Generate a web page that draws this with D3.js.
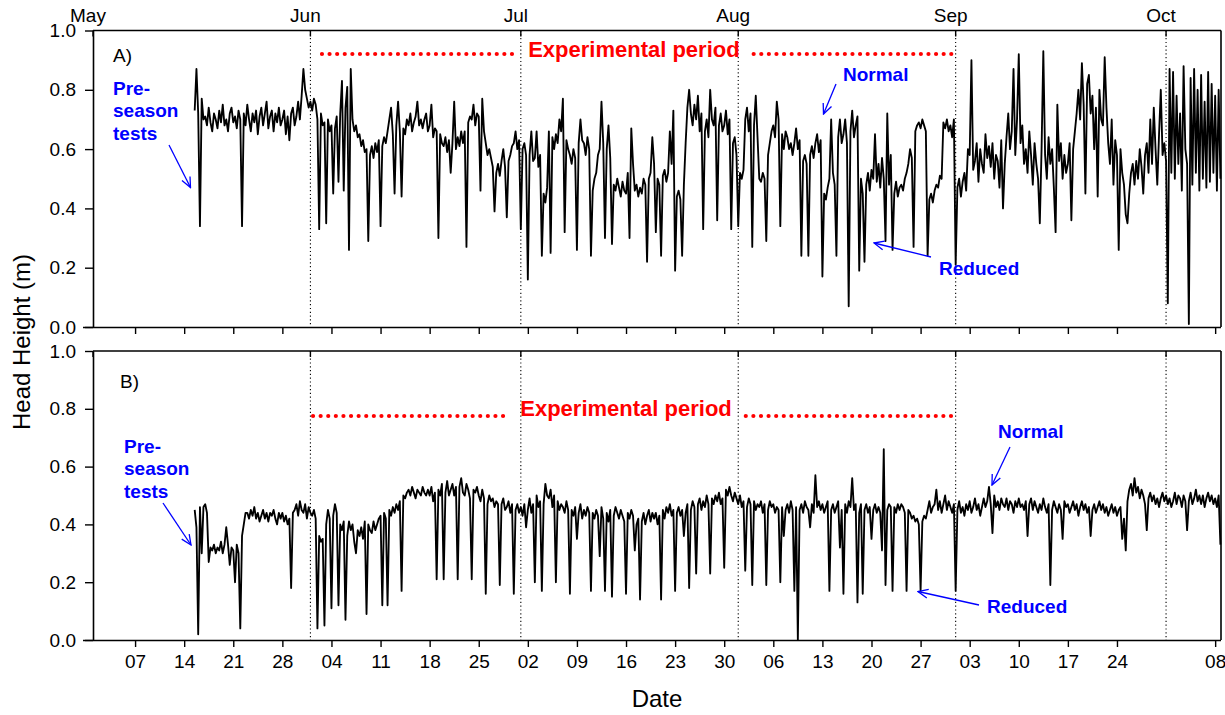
<!DOCTYPE html>
<html>
<head>
<meta charset="utf-8">
<script src="https://cdn.jsdelivr.net/npm/d3@7"></script>
<style>
  body { margin: 0; background: #fff; }
  svg text { font-family: "Liberation Sans", Arial, Helvetica, sans-serif; }
</style>
</head>
<body>
<svg id="chart" width="1225" height="715"></svg>
<script>
// Logger readings: first sample and spacing between samples
const seriesStart = "2012-05-15T12:00";
const stepHours = 6;

// A) head height, cm (4 readings per day)
const headA_cm = [
  73, 87,
  72, 34, 77, 70,  71, 68, 74, 69,  66, 72, 70, 67,  73, 69, 75, 68,  70, 66, 72, 74,  69, 71, 67, 73,
  70, 34, 72, 68,  75, 70, 66, 72,  69, 73, 65, 71,  74, 68, 72, 76,  67, 71, 73, 66,  72, 69, 74, 68,
  70, 73, 65, 71,  63, 72, 74, 68,  71, 76, 70, 78,  87, 80, 77, 74,  76, 73, 77, 75,
  // June
  70, 33, 72, 68,  69, 35, 70, 66,  68, 45, 67, 71,  49, 72, 83, 46,  74, 81, 26, 87,  70, 66, 68, 64,
  65, 61, 63, 59,  60, 29, 58, 61,  57, 62, 59, 63,  34, 61, 64, 62,  66, 70, 74, 65,  45, 68, 76, 66,
  44, 67, 65, 70,  68, 72, 66, 69,  71, 76, 68, 70,  67, 70, 72, 66,  68, 75, 64, 67,  66, 30, 65, 62,
  61, 64, 59, 63,  52, 62, 76, 60,  64, 61, 66, 62,  66, 27, 69, 71,  70, 75, 68, 72,  71, 46, 77, 66,
  62, 58, 60, 57,  54, 39, 52, 55,  51, 56, 60, 54,  37, 56, 58, 61,  62, 66, 60, 63,
  // July
  33, 60, 62, 58,  16, 58, 66, 56,  57, 66, 54, 58,  24, 45, 42, 47,  66, 25, 64, 60,  65, 62, 70, 66,
  77, 32, 63, 60,  58, 55, 60, 57,  26, 62, 70, 63,  62, 58, 64, 60,  24, 46, 50, 52,  58, 60, 76, 62,
  30, 60, 68, 57,  28, 48, 46, 50,  47, 44, 49, 46,  45, 52, 30, 67,  55, 46, 48, 44,  47, 45, 50, 48,
  22, 50, 52, 64,  55, 32, 50, 48,  24, 51, 53, 49,  52, 66, 55, 73,  19, 44, 46, 43,  24, 48, 62, 74,
  80, 72, 68, 75,  70, 78, 66, 72,  33, 66, 70, 64,  80, 70, 68, 74,  36, 68, 72, 66,  68, 73, 65, 70,
  33, 62, 64, 58,
  // August
  34, 52, 50, 53,  70, 74, 66, 72,  27, 68, 78, 64,  50, 49, 52, 50,  29, 58, 62, 66,  68, 64, 76, 70,
  34, 65, 60, 66,  64, 60, 62, 58,  62, 67, 60, 63,  24, 56, 58, 55,  24, 58, 61, 57,  62, 65, 59, 63,
  17, 45, 43, 47,  50, 70, 52, 48,  24, 64, 70, 62,  65, 70, 62,  7,  66, 73, 64, 68,  71, 19, 50, 45,
  22, 48, 52, 46,  53, 50, 65, 49,  55, 47, 57, 50,  29, 72, 48, 58,  26, 45, 49, 44,  47, 48, 46, 50,
  52, 55, 60, 57,  27, 66, 68, 69,  67, 70, 68, 66,  24, 43, 45, 42,  46, 48, 47, 51,  50, 69, 67, 70,
  66, 68, 64, 70,
  // September
  21, 47, 50, 44,  49, 52, 46, 60,  58, 90, 53, 56,  62, 49, 60, 55,  52, 65, 57, 61,  54, 62, 50, 58,
  56, 47, 63, 40,  55, 64, 72, 60,  66, 87, 58, 70,  92, 62, 68, 55,  60, 52, 66, 58,  48, 62, 55, 50,
  35, 60, 93, 58,  50, 64, 55, 60,  47, 32, 75, 56,  62, 50, 58, 52,  55, 62, 36, 60,  66, 72, 80, 70,
  89, 75, 45, 82,  85, 72, 78, 60,  74, 44, 80, 70,  68, 91, 74, 62,  55, 70, 48, 63,  58, 26, 60, 52,
  48, 38, 35, 45,  52, 55, 48, 56,  50, 60, 54, 45,  58, 62, 52, 70,  55, 74, 60, 48,  65, 80, 58, 62,
  // October
  56,  8, 87, 52,  86, 50, 78, 55,  72, 46, 88, 60,  55,  1, 84, 48,  87, 52, 80, 46,  85, 50, 76, 47,
  86, 49, 82, 52,  78, 46, 80, 50
];

// B) head height, cm (4 readings per day)
const headB_cm = [
  45, 39,
   2, 46, 30, 46,  47, 44, 27, 32,  31, 33, 30, 32,  31, 34, 30, 33,  39, 33, 26, 32,  31, 20, 33, 30,
   4, 36, 40, 44,  44, 42, 45, 43,  46, 42, 44, 41,  43, 45, 42, 44,  41, 44, 43, 45,  42, 40, 44, 42,
  44, 41, 43, 40,  42, 18, 44, 45,  47, 43, 48, 45,  44, 47, 42, 46,  44, 43, 45, 42,
  // June
   4, 36, 34, 35,   5, 40, 45, 42,  11, 43, 47, 44,  12, 40, 38, 41,   7, 36, 41, 38,  40, 34, 30, 38,
  36, 39, 35, 41,   9, 40, 38, 37,  41, 38, 40, 42,  43, 12, 44, 42,  12, 45, 43, 46,  44, 47, 45, 48,
  17, 50, 49, 51,  52, 50, 53, 51,  49, 52, 51, 50,  53, 51, 50, 52,  50, 53, 48, 51,  21, 52, 50, 54,
  21, 51, 55, 50,  52, 54, 50, 53,  21, 53, 56, 51,  50, 54, 52, 49,  21, 52, 51, 53,  50, 48, 52, 49,
  16, 47, 50, 48,  49, 46, 48, 47,  19, 47, 49, 45,  46, 48, 44, 47,  16, 45, 47, 44,
  // July
  46, 43, 47, 39,  45, 49, 44, 47,  20, 50, 46, 48,  17, 47, 54, 50,  49, 52, 46, 50,  20, 48, 45, 47,
  46, 44, 48, 45,  16, 45, 43, 46,  35, 44, 47, 42,  45, 43, 46, 44,  17, 44, 42, 45,  43, 29, 46, 42,
  17, 44, 41, 45,  15, 43, 46, 44,  42, 45, 43, 41,  16, 44, 42, 45,  43, 31, 40, 42,  14, 41, 44, 40,
  43, 45, 41, 44,  42, 44, 40, 43,  14, 45, 42, 46,  44, 47, 43, 45,  17, 44, 46, 43,  45, 36, 44, 47,
  18, 45, 48, 46,  23, 47, 49, 45,  48, 46, 50, 47,  23, 49, 47, 50,  48, 51, 47, 49,  25, 52, 50, 53,
  50, 48, 51, 49,
  // August
  47, 50, 46, 48,  24, 46, 49, 47,  19, 48, 45, 47,  46, 48, 44, 47,  19, 45, 48, 46,  47, 44, 46, 45,
  20, 46, 36, 45,  47, 44, 48, 45,  17, 46,  0, 45,  47, 44, 48, 46,  45, 39, 47, 44,  57, 46, 48, 45,
  47, 44, 46, 48,  17, 45, 47, 44,  46, 48, 32, 45,  16, 47, 44, 48,  46, 56, 45, 47,  13, 44, 47, 16,
  45, 47, 44, 46,  35, 45, 47, 44,  46, 44, 31, 66,  19, 45, 47, 46,  17, 46, 44, 47,  45, 47, 46, 44,
  17, 45, 44, 42,  43, 41, 42, 40,  17, 41, 43, 42,  45, 48, 44, 46,  47, 52, 45, 48,  44, 47, 50, 45,
  48, 46, 44, 47,
  // September
  17, 45, 48, 44,  46, 43, 47, 45,  48, 44, 46, 49,  45, 47, 43, 46,  49, 46, 48, 53,  47, 37, 50, 46,
  48, 45, 49, 47,  46, 49, 45, 48,  47, 44, 48, 46,  49, 46, 47, 45,  48, 36, 47, 49,  45, 48, 46, 44,
  47, 45, 49, 46,  44, 47, 19, 45,  48, 46, 44, 47,  45, 35, 48, 46,  47, 44, 46, 48,  45, 47, 43, 46,
  48, 45, 47, 44,  46, 36, 45, 47,  44, 46, 48, 45,  47, 44, 46, 43,  45, 47, 44, 46,  43, 45, 46, 35,
  42, 31, 48, 52,  54, 50, 56, 51,  53, 49, 52, 50,  47, 38, 49, 51,  48, 50, 47, 49,  46, 49, 51, 48,
  // October
  50, 47, 49, 46,  48, 51, 47, 50,  49, 46, 50, 48,  38, 48, 51, 47,  49, 52, 48, 50,  47, 50, 46, 49,
  51, 48, 50, 47,  49, 46, 50, 33
];

const yTicks = [0, 0.2, 0.4, 0.6, 0.8, 1.0];
const weekTicks = [
  "2012-05-07", "2012-05-14", "2012-05-21", "2012-05-28",
  "2012-06-04", "2012-06-11", "2012-06-18", "2012-06-25",
  "2012-07-02", "2012-07-09", "2012-07-16", "2012-07-23", "2012-07-30",
  "2012-08-06", "2012-08-13", "2012-08-20", "2012-08-27",
  "2012-09-03", "2012-09-10", "2012-09-17", "2012-09-24",
  "2012-10-08"
];
const monthLabels = ["May", "Jun", "Jul", "Aug", "Sep", "Oct"];
const monthStarts = ["2012-05-01", "2012-06-01", "2012-07-01", "2012-08-01", "2012-09-01", "2012-10-01"];
const axisStart = "2012-05-01T00:00";
const axisEnd = "2012-10-08T20:00";

// Experimental period bars (start, end) for each panel
const periodA = ["2012-06-02T15:30", "2012-09-01T05:00"];
const periodB = ["2012-06-01T09:00", "2012-08-31T15:00"];

const parseDay = d3.timeParse("%Y-%m-%d");
const parseTime = d3.timeParse("%Y-%m-%dT%H:%M");

const svg = d3.select("#chart");
const left = 93, right = 1221;

const x = d3.scaleTime()
  .domain([parseTime(axisStart), parseTime(axisEnd)])
  .range([left, right]);

const t0 = parseTime(seriesStart);
function toSeries(arr) {
  return arr.map((v, i) => ({ t: d3.timeHour.offset(t0, i * stepHours), v: v / 100 }));
}

const panels = [
  { tag: "A)", data: toSeries(headA_cm), top: 30.5, bottom: 327, period: periodA,
    labelDate: "2012-07-17T03:00", labelY: 57, dotY: 54, tagPos: [113, 62], xLabels: false },
  { tag: "B)", data: toSeries(headB_cm), top: 351, bottom: 640, period: periodB,
    labelDate: "2012-07-16T00:00", labelY: 416, dotY: 416, tagPos: [120, 388], xLabels: true }
];

const blue = "#0000ff";
const red = "#ff0000";
const fontStack = '"Liberation Sans", Arial, sans-serif';

// Arrowhead marker (open V)
svg.append("defs").append("marker")
  .attr("id", "arr")
  .attr("viewBox", "0 0 12 12")
  .attr("refX", 11).attr("refY", 6)
  .attr("markerWidth", 12).attr("markerHeight", 12)
  .attr("markerUnits", "userSpaceOnUse")
  .attr("orient", "auto")
  .append("path")
  .attr("d", "M1,1.5 L11,6 L1,10.5")
  .attr("fill", "none")
  .attr("stroke", blue)
  .attr("stroke-width", 1.3);

panels.forEach(p => {
  const y = d3.scaleLinear().domain([0, 1]).range([p.bottom, p.top]);
  const g = svg.append("g");

  // month boundary lines (dotted)
  g.selectAll("line.month")
    .data(monthStarts.slice(1).map(parseDay))
    .join("line")
    .attr("x1", d => x(d)).attr("x2", d => x(d))
    .attr("y1", p.top).attr("y2", p.bottom)
    .attr("stroke", "#000").attr("stroke-width", 1.1)
    .attr("stroke-dasharray", "1.2,2.6");

  // head height trace
  const line = d3.line().x(d => x(d.t)).y(d => y(d.v));
  g.append("path")
    .datum(p.data)
    .attr("d", line)
    .attr("fill", "none")
    .attr("stroke", "#000")
    .attr("stroke-width", 1.85)
    .attr("stroke-linejoin", "round");

  // frame: top and right
  g.append("line").attr("x1", left).attr("x2", right).attr("y1", p.top).attr("y2", p.top)
    .attr("stroke", "#000").attr("stroke-width", 1.6);
  g.append("line").attr("x1", right).attr("x2", right).attr("y1", p.top).attr("y2", p.bottom)
    .attr("stroke", "#000").attr("stroke-width", 1.6);

  // month ticks on the top edge (inward)
  g.selectAll("line.mt")
    .data(monthStarts.map(parseDay))
    .join("line")
    .attr("x1", d => x(d)).attr("x2", d => x(d))
    .attr("y1", p.top).attr("y2", p.top + 6)
    .attr("stroke", "#000").attr("stroke-width", 1.4);

  // left axis
  const yAxis = d3.axisLeft(y).tickValues(yTicks).tickFormat(d3.format(".1f"))
    .tickSize(8).tickSizeOuter(0).tickPadding(9);
  const ya = g.append("g").attr("transform", `translate(${left},0)`).call(yAxis);
  ya.select(".domain").attr("stroke-width", 1.6);
  ya.selectAll(".tick line").attr("stroke-width", 1.4);
  ya.selectAll("text").attr("font-size", 19).attr("fill", "#000").style("font-family", fontStack);

  // bottom axis with weekly ticks
  const xAxis = d3.axisBottom(x).tickValues(weekTicks.map(parseDay))
    .tickFormat(p.xLabels ? d3.timeFormat("%d") : () => "")
    .tickSize(7).tickSizeOuter(0).tickPadding(8);
  const xa = g.append("g").attr("transform", `translate(0,${p.bottom})`).call(xAxis);
  xa.select(".domain").attr("stroke-width", 1.6).attr("d", `M${left - 10},0.5H${right}`);
  xa.selectAll(".tick line").attr("stroke-width", 1.4);
  xa.selectAll("text").attr("font-size", 19).attr("fill", "#000").style("font-family", fontStack);

  // panel tag
  g.append("text").attr("x", p.tagPos[0]).attr("y", p.tagPos[1])
    .attr("font-size", 19).text(p.tag);

  // experimental period bar with centred label
  const cx = x(parseTime(p.labelDate));
  const lbl = g.append("text")
    .attr("x", cx).attr("y", p.labelY)
    .attr("text-anchor", "middle")
    .attr("font-size", 22).attr("font-weight", "bold")
    .attr("fill", red)
    .text("Experimental period");
  const bb = lbl.node().getBBox();
  const xs = x(parseTime(p.period[0])), xe = x(parseTime(p.period[1]));
  [[xs, bb.x - 10], [bb.x + bb.width + 14, xe]].forEach(([a, b]) => {
    g.append("line")
      .attr("x1", a).attr("x2", b).attr("y1", p.dotY).attr("y2", p.dotY)
      .attr("stroke", red).attr("stroke-width", 4.2)
      .attr("stroke-linecap", "round")
      .attr("stroke-dasharray", "0,7.6");
  });
});

// month names above the upper panel
svg.selectAll("text.month")
  .data(monthStarts.map(parseDay))
  .join("text")
  .attr("x", d => x(d) - 5)
  .attr("y", 22)
  .attr("text-anchor", "middle")
  .attr("font-size", 19)
  .text((d, i) => monthLabels[i]);

// axis titles
svg.append("text")
  .attr("transform", "translate(30,342) rotate(-90)")
  .attr("text-anchor", "middle")
  .attr("font-size", 24)
  .text("Head Height (m)");
svg.append("text")
  .attr("x", 657).attr("y", 707)
  .attr("text-anchor", "middle")
  .attr("font-size", 24)
  .text("Date");

// blue annotations
const notes = [
  { lines: ["Pre-", "season", "tests"], x: 113, y: 95, arrow: [169, 145, 190.5, 187.5] },
  { lines: ["Normal"], x: 843, y: 81, arrow: [836, 84, 823.5, 114] },
  { lines: ["Reduced"], x: 939, y: 275, arrow: [931, 257, 874, 243] },
  { lines: ["Pre-", "season", "tests"], x: 124, y: 453, arrow: [163, 503, 191, 545] },
  { lines: ["Normal"], x: 998, y: 438, arrow: [1010, 447, 992, 485] },
  { lines: ["Reduced"], x: 987, y: 613, arrow: [979, 605, 918, 591.5] }
];
notes.forEach(n => {
  const t = svg.append("text")
    .attr("x", n.x).attr("y", n.y)
    .attr("font-size", 19).attr("font-weight", "bold")
    .attr("fill", blue);
  n.lines.forEach((s, i) => {
    t.append("tspan").attr("x", n.x).attr("dy", i === 0 ? 0 : 22.3).text(s);
  });
  svg.append("line")
    .attr("x1", n.arrow[0]).attr("y1", n.arrow[1])
    .attr("x2", n.arrow[2]).attr("y2", n.arrow[3])
    .attr("stroke", blue).attr("stroke-width", 1.3)
    .attr("marker-end", "url(#arr)");
});
</script>
</body>
</html>
